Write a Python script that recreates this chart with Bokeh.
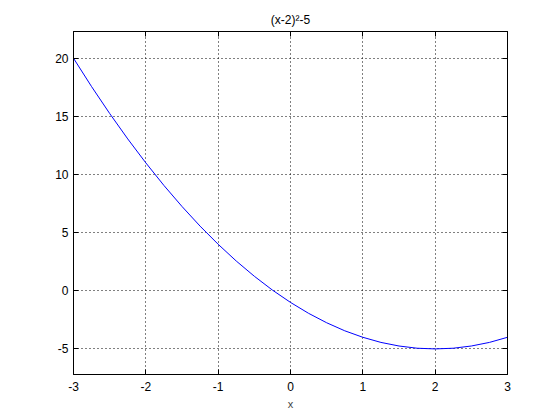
from bokeh.plotting import figure
from bokeh.models import Range1d, FixedTicker, LinearAxis
from bokeh.embed import file_html
from bokeh.resources import INLINE

# data
x_vals = [-3, -2.75, -2.5, -2.25, -2, -1.75, -1.5, -1.25, -1, -0.75, -0.5, -0.25,
          0, 0.25, 0.5, 0.75, 1, 1.25, 1.5, 1.75, 2, 2.25, 2.5, 2.75, 3]
y_vals = [20, 17.56, 15.25, 13.06, 11, 9.06, 7.25, 5.56, 4, 2.56, 1.25, 0.06,
          -1, -1.94, -2.75, -3.44, -4, -4.44, -4.75, -4.94, -5, -4.94, -4.75, -4.44, -4]
x_ticks = [-3, -2, -1, 0, 1, 2, 3]
x_tick_labels = ["-3", "-2", "-1", "0", "1", "2", "3"]
y_ticks = [-5, 0, 5, 10, 15, 20]
y_tick_labels = ["-5", "0", "5", "10", "15", "20"]
title_text = "(x-2)²-5"
x_label = "x"

FONT = "Liberation Sans"

p = figure(width=544, height=412, output_backend="svg", toolbar_location=None,
           x_range=Range1d(-3, 3), y_range=Range1d(-7.2, 22.3),
           min_border_left=73, min_border_right=37, min_border_top=31, min_border_bottom=38,
           background_fill_color="white", border_fill_color="white")

p.title.text = title_text
p.title.align = "center"
p.title.text_font = FONT
p.title.text_font_size = "12px"
p.title.text_font_style = "normal"
p.title.text_color = "black"
p.title.standoff = 10

p.outline_line_color = "black"
p.outline_line_width = 1
p.outline_line_alpha = 1

p.line(x_vals, y_vals, line_color="#0000ff", line_width=1)

for ax, ticks, labels in ((p.xaxis[0], x_ticks, x_tick_labels), (p.yaxis[0], y_ticks, y_tick_labels)):
    ax.ticker = FixedTicker(ticks=ticks)
    ax.major_label_overrides = {t: l for t, l in zip(ticks, labels)}
    ax.major_tick_in = 5
    ax.major_tick_out = 0
    ax.minor_tick_in = 0
    ax.minor_tick_out = 0
    ax.axis_line_color = "black"
    ax.major_tick_line_color = "black"
    ax.major_label_text_font = FONT
    ax.major_label_text_font_size = "12px"
    ax.major_label_text_color = "black"

p.xaxis[0].major_label_standoff = 7
p.yaxis[0].major_label_standoff = 5
p.xaxis[0].axis_label = x_label
p.xaxis[0].axis_label_text_font = FONT
p.xaxis[0].axis_label_text_font_size = "11px"
p.xaxis[0].axis_label_text_font_style = "normal"
p.xaxis[0].axis_label_standoff = 4

for loc, ticks in (("right", y_ticks), ("above", x_ticks)):
    ax = LinearAxis(ticker=FixedTicker(ticks=ticks))
    ax.major_label_overrides = {t: "" for t in ticks}
    ax.major_tick_in = 5
    ax.major_tick_out = 0
    ax.minor_tick_in = 0
    ax.minor_tick_out = 0
    ax.axis_line_color = "black"
    ax.major_tick_line_color = "black"
    ax.major_label_standoff = 0
    p.add_layout(ax, loc)

p.xgrid.ticker = FixedTicker(ticks=x_ticks)
p.ygrid.ticker = FixedTicker(ticks=y_ticks)
for g in (p.xgrid[0], p.ygrid[0]):
    g.grid_line_color = "black"
    g.grid_line_dash = "1 3"
    g.grid_line_width = 1
    g.grid_line_alpha = 1

open("out.html", "w").write(file_html(p, INLINE))
